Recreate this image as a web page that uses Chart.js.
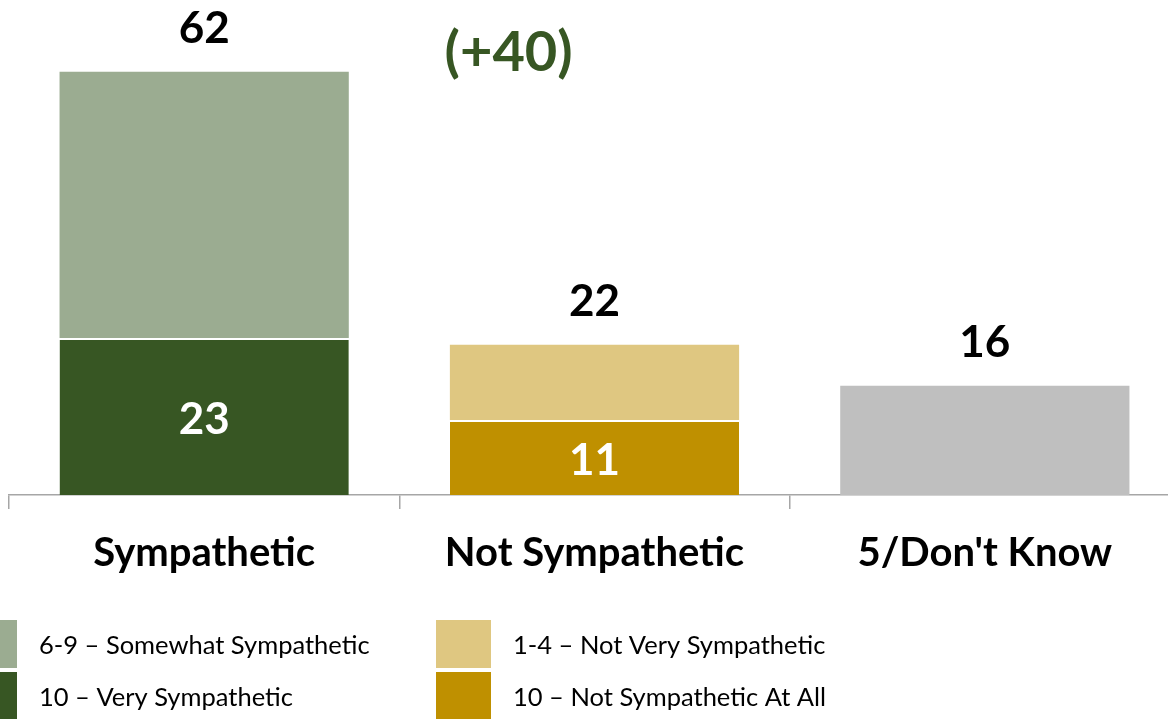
<!DOCTYPE html>
<html>
<head>
<meta charset="utf-8">
<script src="https://cdn.jsdelivr.net/npm/chart.js@4.4.1/dist/chart.umd.min.js"></script>
<style>
  html, body { margin: 0; padding: 0; background: #fff; overflow: hidden; }
  #wrap { position: relative; width: 1180px; height: 719px; }
</style>
</head>
<body>
<div id="wrap"><canvas id="sympChart" width="1180" height="719"></canvas></div>
<script>
// categories and values
const categories = ['Sympathetic', 'Not Sympathetic', "5/Don't Know"];
const verySympathetic = [23, null, null];
const somewhatSympathetic = [39, null, null];
const notAtAll = [null, 11, null];
const notVery = [null, 11, null];
const dontKnow = [null, null, 16];
const totals = [62, 22, 16];
const netLabel = '(+40)';

const FONT = 'Lato, "Open Sans", sans-serif';
const C = {
  darkGreen: '#375623',
  lightGreen: '#9bac91',
  gold: '#bf9000',
  lightGold: '#dfc781',
  gray: '#bfbfbf'
};

// legend entries: [label, color, column, row]
const legendItems = [
  ['6-9 \u2013 Somewhat Sympathetic', C.lightGreen, 0, 0],
  ['10 \u2013 Very Sympathetic', C.darkGreen, 0, 1],
  ['1-4 \u2013 Not Very Sympathetic', C.lightGold, 1, 0],
  ['10 \u2013 Not Sympathetic At All', C.gold, 1, 1]
];

const labelPlugin = {
  id: 'labels',
  afterDatasetsDraw(chart) {
    const ctx = chart.ctx;
    const xs = chart.scales.x, ys = chart.scales.y;
    ctx.save();
    ctx.textAlign = 'center';
    ctx.textBaseline = 'middle';
    // totals above each bar
    ctx.font = 'bold 44px ' + FONT;
    ctx.fillStyle = '#000';
    totals.forEach((t, i) => {
      ctx.fillText(String(t), xs.getPixelForValue(i), ys.getPixelForValue(t) - 43);
    });
    // inner values for the bottom segments
    ctx.fillStyle = '#fff';
    [[0, verySympathetic[0]], [1, notAtAll[1]]].forEach(([i, v]) => {
      const mid = (ys.getPixelForValue(0) + ys.getPixelForValue(v)) / 2;
      ctx.fillText(String(v), xs.getPixelForValue(i), mid + 3);
    });
    // net difference
    ctx.font = 'bold 56px ' + FONT;
    ctx.fillStyle = C.darkGreen;
    ctx.fillText(netLabel, xs.getPixelForValue(0.78), ys.getPixelForValue(totals[0]) - 19);

    // legend
    ctx.textAlign = 'left';
    ctx.font = '25.5px ' + FONT;
    legendItems.forEach(([text, color, col, row]) => {
      const sx = col === 0 ? -38 : 436;
      const sy = 620 + row * 52;
      ctx.fillStyle = color;
      ctx.fillRect(sx, sy, 55, 48);
      ctx.fillStyle = '#000';
      ctx.fillText(text, sx + 77, sy + 26);
    });
    ctx.restore();
  }
};

const lowerBorder = { top: 2, right: 0, bottom: 0, left: 0 };

new Chart(document.getElementById('sympChart'), {
  type: 'bar',
  data: {
    labels: categories,
    datasets: [
      { label: '10 \u2013 Very Sympathetic', data: verySympathetic, backgroundColor: C.darkGreen, borderColor: '#fff', borderWidth: lowerBorder, borderSkipped: false },
      { label: '6-9 \u2013 Somewhat Sympathetic', data: somewhatSympathetic, backgroundColor: C.lightGreen },
      { label: '10 \u2013 Not Sympathetic At All', data: notAtAll, backgroundColor: C.gold, borderColor: '#fff', borderWidth: lowerBorder, borderSkipped: false },
      { label: '1-4 \u2013 Not Very Sympathetic', data: notVery, backgroundColor: C.lightGold },
      { label: "5/Don't Know", data: dontKnow, backgroundColor: C.gray }
    ]
  },
  options: {
    responsive: false,
    animation: false,
    devicePixelRatio: 1,
    layout: { padding: { left: 9, right: 0, top: 0, bottom: 122 } },
    datasets: { bar: { categoryPercentage: 1, barPercentage: 0.741 } },
    plugins: { legend: { display: false }, tooltip: { enabled: false } },
    scales: {
      x: {
        stacked: true,
        border: { color: '#a6a6a6', width: 1.5 },
        grid: { offset: true, drawOnChartArea: false, tickLength: 14, color: '#a6a6a6', lineWidth: 1.5 },
        ticks: { color: '#000', padding: 20, font: { family: FONT, size: 40, weight: 'bold' } }
      },
      y: {
        stacked: true,
        display: false,
        min: 0,
        max: 72.5
      }
    }
  },
  plugins: [labelPlugin]
});
</script>
</body>
</html>
